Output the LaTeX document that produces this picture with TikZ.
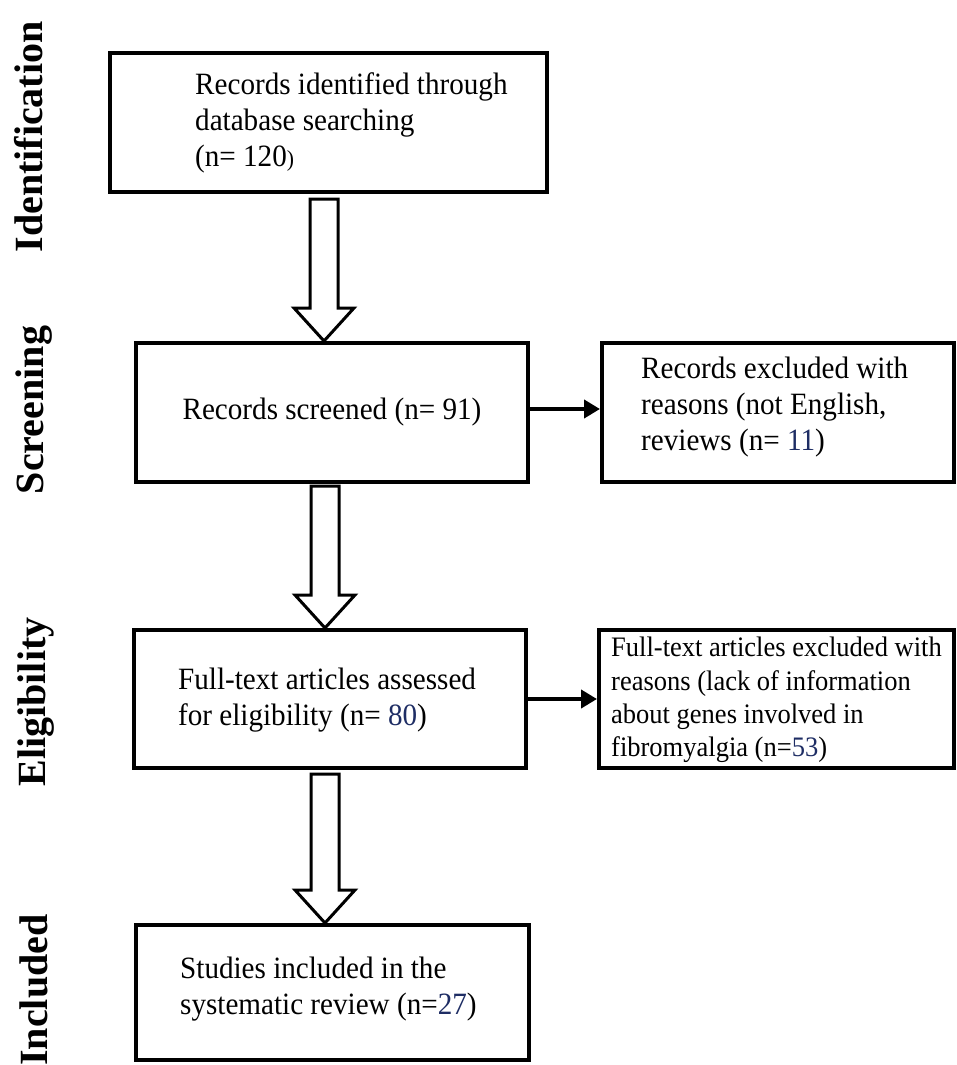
\documentclass[tikz,border=0pt]{standalone}
\usepackage{fontspec}
\setmainfont{Liberation Serif}
\newfontfamily\boxfont{Liberation Serif}[FakeStretch=0.94]
\usetikzlibrary{arrows.meta,calc}
\definecolor{numblue}{RGB}{30,45,100}
\tikzset{
 box/.style={draw=black, line width=4pt, fill=white, inner sep=0pt, rectangle},
 txt/.style={inner sep=0pt, align=left, anchor=west, font=\boxfont\fontsize{31pt}{36pt}\selectfont},
 smalltxt/.style={inner sep=0pt, align=left, anchor=west, font=\boxfont\fontsize{28.2pt}{33.3pt}\selectfont},
 lab/.style={inner sep=0pt, rotate=90, anchor=base, font=\fontsize{40pt}{48pt}\selectfont\bfseries},
 harrow/.style={line width=4pt, -{Triangle[length=16pt,width=18pt]}},
 hollow/.style={draw=black, fill=white, line width=3pt, line join=miter},
}
\newcommand{\blockarrow}[2]{%
 \draw[hollow] let \p1=(#1), \p2=(#2) in
  (\x1-14pt,\y1) -- (\x1+14pt,\y1) -- (\x1+14pt,\y2+33pt) -- (\x1+30pt,\y2+33pt)
  -- (\x1,\y2) -- (\x1-30pt,\y2+33pt) -- (\x1-14pt,\y2+33pt) -- cycle;}
\begin{document}
\begin{tikzpicture}[x=1pt,y=-1pt]
\useasboundingbox (0,0) rectangle (957,1065);

% stage labels
\node[lab] (lid) at (42,137) {Identification};
\node[lab] (lsc) at (43,410) {Screening};
\node[lab] (lel) at (45,702) {Eligibility};
\node[lab] (lin) at (47,990) {Included};

% boxes
\node[box, minimum width=437pt, minimum height=139pt] (b1) at (328.5,122.5) {};
\node[box, minimum width=392pt, minimum height=139pt, font=\boxfont\fontsize{31pt}{36pt}\selectfont] (b2) at (332,412.5) {Records screened (n= 91)};
\node[box, minimum width=352pt, minimum height=139pt] (b3) at (778,412.5) {};
\node[box, minimum width=392pt, minimum height=138pt] (b4) at (330,699) {};
\node[box, minimum width=355pt, minimum height=138pt] (b5) at (776.5,699) {};
\node[box, minimum width=393pt, minimum height=135pt] (b6) at (332.5,992.5) {};

% texts
\node[txt] (t1) at (195,123) {Records identified through\\database searching\\(n= 120{\fontsize{23pt}{23pt}\selectfont )}};
\node[txt] (t3) at (641,407) {Records excluded with\\reasons (not English,\\reviews (n= \textcolor{numblue}{11})};
\node[txt] (t4) at (178,700) {Full-text articles assessed\\for eligibility (n= \textcolor{numblue}{80})};
\node[smalltxt] (t5) at (611,700) {Full-text articles excluded with\\reasons (lack of information\\about genes involved in\\fibromyalgia (n=\textcolor{numblue}{53})};
\node[txt] (t6) at (180,989) {Studies included in the\\systematic review (n=\textcolor{numblue}{27})};

% hollow down arrows
\coordinate (a1s) at (324,199);
\coordinate (a1e) at (a1s |- b2.north);
\blockarrow{a1s}{a1e}
\coordinate (a2s) at (325,486);
\coordinate (a2e) at (a2s |- b4.north);
\blockarrow{a2s}{a2e}
\coordinate (a3s) at (325,774);
\coordinate (a3e) at (a3s |- b6.north);
\blockarrow{a3s}{a3e}

% side arrows
\draw[harrow] ([yshift=3.5pt]b2.east) -- ([yshift=3.5pt]b3.west);
\draw[harrow] (b4.east) -- (b5.west);
\end{tikzpicture}
\end{document}
